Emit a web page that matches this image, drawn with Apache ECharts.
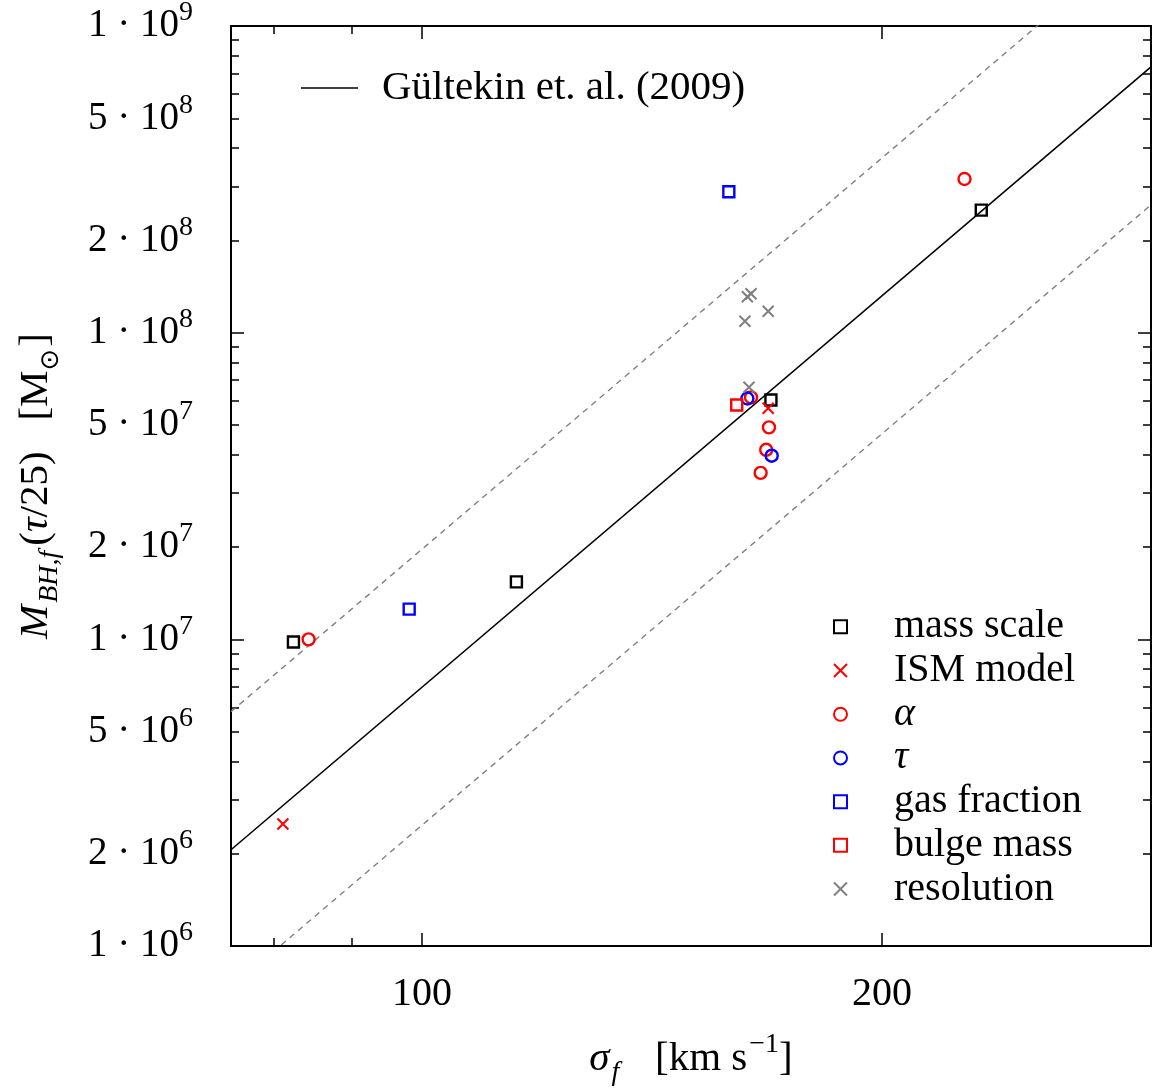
<!DOCTYPE html>
<html>
<head>
<meta charset="utf-8">
<script src="https://cdn.jsdelivr.net/npm/echarts@6/dist/echarts.min.js"></script>
<style>
  html, body { margin: 0; padding: 0; background: #fff; }
  #chart1 { width: 1158px; height: 1091px; }
</style>
</head>
<body>
<div id="chart1"></div>
<script>
// sigma_f [km/s] and M_BH,f [Msun]
const massScaleSigma = [82.4, 115.3, 169.2, 232.3];
const massScaleMbh = [9.8e6, 1.54e7, 6.03e7, 2.51e8];

const ismSigma = [81.1, 168.5];
const ismMbh = [2.5e6, 5.67e7];

const alphaSigma = [84.3, 164.2, 168.7, 168.0, 166.6, 226.5];
const alphaMbh = [1.0e7, 6.15e7, 4.91e7, 4.15e7, 3.49e7, 3.17e8];

const tauSigma = [163.3, 169.4];
const tauMbh = [6.1e7, 3.97e7];

const gasSigma = [98.1, 158.8];
const gasMbh = [1.255e7, 2.88e8];

const bulgeSigma = [160.7];
const bulgeMbh = [5.81e7];

const resSigma = [163.3, 164.2, 168.5, 162.7, 163.7];
const resMbh = [1.31e8, 1.34e8, 1.174e8, 1.09e8, 6.64e7];

// Gültekin et al. (2009) relation and its scatter band, end points
const relSigma = [75, 300];
const relMbh = [2.06e6, 7.36e8];
const relUpperMbh = [5.81e6, 2.07e9];
const relLowerMbh = [7.31e5, 2.61e8];

// ticks
const xMajorTicks = [100, 200];
const xMinorTicks = [80, 90];
const yMajorTicks = [1e6, 1e7, 1e8, 1e9];
const yMinorTicks = [2e6, 3e6, 4e6, 5e6, 6e6, 7e6, 8e6, 9e6,
                     2e7, 3e7, 4e7, 5e7, 6e7, 7e7, 8e7, 9e7,
                     2e8, 3e8, 4e8, 5e8, 6e8, 7e8, 8e8, 9e8];
const yTickLabels = [1e6, 2e6, 5e6, 1e7, 2e7, 5e7, 1e8, 2e8, 5e8, 1e9];

const FONT = 'Liberation Serif';
const CROSS = 'path://M0,0L10,10M10,0L0,10';

let chart1;

const zip = (xs, ys) => xs.map((x, i) => [x, ys[i]]);

const sciLabel = (v) => {
    const e = Math.floor(Math.log10(v) + 1e-9);
    const m = Math.round(v / Math.pow(10, e));
    return '{m|' + m + ' · 10}{e|' + e + '}';
};

const logAxis = (position, min, max, ticks, len, extra) => {
    return Object.assign({
        type: 'log',
        logBase: 10,
        min: min,
        max: max,
        position: position,
        axisLine: { show: false },
        splitLine: { show: false },
        axisTick: {
            show: true,
            inside: true,
            length: len,
            customValues: ticks,
            lineStyle: { color: '#000', width: 1.5 }
        },
        axisLabel: { show: false }
    }, extra || {});
};

const pointSeries = (name, xs, ys, symbol, color, size) => {
    return {
        name: name,
        type: 'scatter',
        symbol: symbol,
        symbolSize: size,
        data: zip(xs, ys),
        itemStyle: {
            color: 'rgba(0,0,0,0)',
            borderColor: color,
            borderWidth: symbol === CROSS ? 2 : 2.4,
            opacity: 1
        },
        z: 5
    };
};

const nameRich = {
    i: { fontFamily: FONT, fontSize: 41, lineHeight: 46, fontStyle: 'italic', color: '#000' },
    n: { fontFamily: FONT, fontSize: 41, lineHeight: 46, color: '#000' },
    sub: { fontFamily: FONT, fontSize: 28, lineHeight: 28, fontStyle: 'italic', verticalAlign: 'bottom', color: '#000', padding: [0, 5, -5, 2] },
    sup: { fontFamily: FONT, fontSize: 28, lineHeight: 28, verticalAlign: 'top', color: '#000', padding: [-5, 0, 0, 2] },
    sun: { fontFamily: 'DejaVu Sans', fontSize: 26, lineHeight: 28, verticalAlign: 'bottom', color: '#000', padding: [0, 2, -5, 0] }
};

const getOptionChart1 = () => {
    return {
        animation: false,
        backgroundColor: '#fff',
        textStyle: { fontFamily: FONT, color: '#000' },
        grid: {
            left: 231, right: 7, top: 26, bottom: 145,
            show: true,
            borderColor: '#000',
            borderWidth: 2,
            backgroundColor: 'rgba(0,0,0,0)',
            outerBoundsMode: 'none'
        },
        legend: [
            {
                data: [{ name: 'Gültekin et. al. (2009)', icon: 'rect' }],
                left: 301,
                top: 66,
                padding: 0,
                itemWidth: 57,
                itemHeight: 1.6,
                textStyle: { fontFamily: FONT, fontSize: 41, lineHeight: 44, color: '#000', padding: [0, 0, 0, 19] }
            },
            {
                data: ['mass scale', 'ISM model', 'α', 'τ', 'gas fraction', 'bulge mass', 'resolution'],
                orient: 'vertical',
                left: 833,
                top: 605,
                padding: 0,
                itemGap: 0,
                itemWidth: 13,
                itemHeight: 13,
                formatter: (name) => (name === 'α' || name === 'τ') ? '{i|' + name + '}' : name,
                textStyle: {
                    fontFamily: FONT, fontSize: 40, lineHeight: 43.7, color: '#000', padding: [0, 0, 0, 42],
                    rich: { i: { fontFamily: FONT, fontSize: 40, lineHeight: 43.7, fontStyle: 'italic' } }
                }
            }
        ],
        xAxis: [
            logAxis('bottom', 75, 300, xMajorTicks, 13, {
                axisLabel: {
                    show: true,
                    customValues: xMajorTicks,
                    margin: 28,
                    fontFamily: FONT,
                    fontSize: 40,
                    color: '#000'
                },
                name: '{i|σ}{sub|f}{n|   [km s}{sup|−1}{n|]}',
                nameLocation: 'middle',
                nameGap: 90,
                nameTextStyle: { rich: nameRich }
            }),
            logAxis('bottom', 75, 300, xMinorTicks, 8),
            logAxis('top', 75, 300, xMajorTicks, 13),
            logAxis('top', 75, 300, xMinorTicks, 8)
        ],
        yAxis: [
            logAxis('left', 1e6, 1e9, yMajorTicks, 13, {
                axisLabel: {
                    show: true,
                    customValues: yTickLabels,
                    margin: 38,
                    formatter: sciLabel,
                    rich: {
                        m: { fontFamily: FONT, fontSize: 39, lineHeight: 44, color: '#000' },
                        e: { fontFamily: FONT, fontSize: 28, lineHeight: 28, verticalAlign: 'top', color: '#000', padding: [-5, 0, 0, 0] }
                    }
                },
                name: '{i|M}{sub|BH,f}{n|(}{i|τ}{n|/25)   [M}{sun|⊙}{n|]}',
                nameLocation: 'middle',
                nameRotate: 90,
                nameGap: 172,
                nameTextStyle: { rich: nameRich }
            }),
            logAxis('left', 1e6, 1e9, yMinorTicks, 8),
            logAxis('right', 1e6, 1e9, yMajorTicks, 13),
            logAxis('right', 1e6, 1e9, yMinorTicks, 8)
        ],
        series: [
            {
                name: 'upper scatter',
                type: 'line',
                data: zip(relSigma, relUpperMbh),
                symbol: 'none',
                lineStyle: { color: '#808080', width: 1.4, type: [6, 5] },
                z: 2
            },
            {
                name: 'lower scatter',
                type: 'line',
                data: zip(relSigma, relLowerMbh),
                symbol: 'none',
                lineStyle: { color: '#808080', width: 1.4, type: [6, 5] },
                z: 2
            },
            {
                name: 'Gültekin et. al. (2009)',
                type: 'line',
                data: zip(relSigma, relMbh),
                symbol: 'none',
                itemStyle: { color: '#000' },
                lineStyle: { color: '#000', width: 1.6 },
                z: 3
            },
            pointSeries('mass scale', massScaleSigma, massScaleMbh, 'rect', '#000', 11),
            pointSeries('ISM model', ismSigma, ismMbh, CROSS, '#ff0000', 11),
            pointSeries('α', alphaSigma, alphaMbh, 'circle', '#ff0000', 12),
            pointSeries('τ', tauSigma, tauMbh, 'circle', '#0000ff', 12),
            pointSeries('gas fraction', gasSigma, gasMbh, 'rect', '#0000ff', 11),
            pointSeries('bulge mass', bulgeSigma, bulgeMbh, 'rect', '#ff0000', 11),
            pointSeries('resolution', resSigma, resMbh, CROSS, '#808080', 11)
        ]
    };
};

const initCharts = () => {
    chart1 = echarts.init(document.getElementById('chart1'));
    chart1.setOption(getOptionChart1());
};

document.addEventListener('DOMContentLoaded', function () {
    initCharts();
});

window.addEventListener('resize', function () {
    chart1.resize();
});
</script>
</body>
</html>
